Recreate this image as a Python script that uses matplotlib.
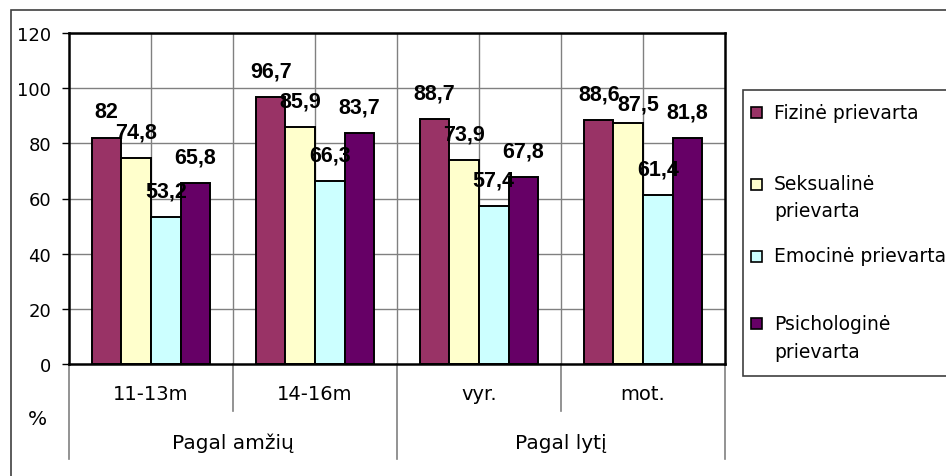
import matplotlib
matplotlib.use("Agg")
import matplotlib.pyplot as plt
from matplotlib.patches import Rectangle
import numpy as np

# data
categories = ["11-13m", "14-16m", "vyr.", "mot."]
groups = ["Pagal amžių", "Pagal lytį"]
series = ["Fizinė prievarta", "Seksualinė\nprievarta", "Emocinė prievarta",
          "Psichologinė\nprievarta"]
fizine = [82, 96.7, 88.7, 88.6]
seksualine = [74.8, 85.9, 73.9, 87.5]
emocine = [53.2, 66.3, 57.4, 61.4]
psichologine = [65.8, 83.7, 67.8, 81.8]
colors = ["#993366", "#FFFFCC", "#CCFFFF", "#660066"]
yticks = [0, 20, 40, 60, 80, 100, 120]

# the one data label that was dragged aside in the original (series, category)
label_nudge = {(1, 3): (7, -5)}

W, H = 946, 477
plt.rcParams["font.family"] = ["DejaVu Sans"]
fig = plt.figure(figsize=(W / 100, H / 100), dpi=100)
fig.patch.set_facecolor("white")

def fx(px):
    return px / W

def fy(py):
    return 1 - py / H

# outer chart border (runs off the right and bottom edges)
fig.patches.append(Rectangle((fx(11), fy(490)), fx(980) - fx(11), fy(11) - fy(490),
                             transform=fig.transFigure, fill=False,
                             edgecolor="#404040", lw=1.2))

ax = fig.add_axes([fx(69), fy(365), fx(725) - fx(69), fy(34) - fy(365)])
ax.set_xlim(0, 4)
ax.set_ylim(0, 120)

x = np.arange(len(categories)) + 0.5
w = 0.18
all_series = [fizine, seksualine, emocine, psichologine]
for i, (vals, col) in enumerate(zip(all_series, colors)):
    xs = x + (i - 1.5) * w
    ax.bar(xs, vals, width=w, color=col, edgecolor="black", linewidth=1.4, zorder=3)
    for j, (xi, v) in enumerate(zip(xs, vals)):
        dx, dy = label_nudge.get((i, j), (0, 0))
        ax.annotate(f"{v:g}".replace(".", ","), (xi, v), xytext=(dx, 18.7 + dy),
                    textcoords="offset points", ha="center", va="center",
                    fontsize=15.5, fontweight="bold", family="Liberation Sans",
                    zorder=5)

# gridlines
for yv in yticks[1:]:
    ax.axhline(yv, color="#808080", lw=1, zorder=1)
for xv in np.arange(0.5, 4, 0.5):
    ax.axvline(xv, color="#808080", lw=1, zorder=1)

for s in ax.spines.values():
    s.set_color("black")
    s.set_linewidth(1.8)
    s.set_zorder(4)

ax.set_yticks(yticks)
ax.set_yticklabels([str(t) for t in yticks], fontsize=13)
ax.tick_params(axis="y", direction="out", length=5, width=1, pad=8)
ax.set_xticks([])

# category and group labels below the axis
trans = ax.get_xaxis_transform()
for xi, lab in zip(x, categories):
    ax.text(xi, -0.09, lab, transform=trans, ha="center", va="center", fontsize=14)
for gi, g in enumerate(groups):
    ax.text(1 + 2 * gi, -0.236, g, transform=trans, ha="center", va="center",
            fontsize=14.5)
for xv in [0, 1, 2, 3, 4]:
    bottom = -0.287 if xv % 2 == 0 else -0.142
    ax.plot([xv, xv], [0, bottom], transform=trans, color="#808080", lw=1.2,
            clip_on=False, zorder=2)

fig.text(fx(37), fy(420), "%", ha="center", va="center", fontsize=14.5)

# legend box (runs off the right edge like the reference)
fig.patches.append(Rectangle((fx(743), fy(377)), fx(990) - fx(743), fy(91) - fy(377),
                             transform=fig.transFigure, facecolor="white",
                             edgecolor="#404040", lw=1.2))
marker_y = [113, 185, 257, 324]
baselines = [[119], [190, 217], [262], [330, 358]]
for lab, col, my, bls in zip(series, colors, marker_y, baselines):
    fig.patches.append(Rectangle((fx(751), fy(my + 5.5)), fx(11), 11 / H,
                                 transform=fig.transFigure, facecolor=col,
                                 edgecolor="black", lw=1.2))
    for line, bl in zip(lab.split("\n"), bls):
        fig.text(fx(774), fy(bl), line, ha="left", va="baseline", fontsize=13.5)

fig.savefig("out.png", dpi=100, facecolor="white")
